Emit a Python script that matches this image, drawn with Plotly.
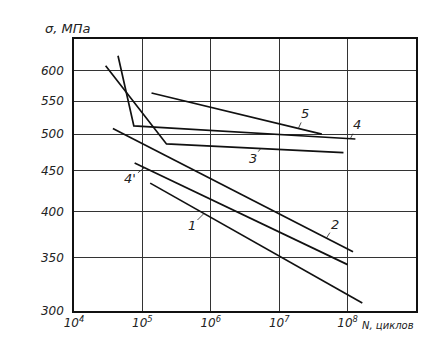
import numpy as np
import plotly.graph_objects as go

# Data (N cycles, stress MPa)
line1_N = [1.3e5, 1.64e8]
line1_S = [434, 307]
line2_N = [3.7e4, 1.2e8]
line2_S = [508, 356]
line3_N = [2.9e4, 2.25e5, 8.7e7]
line3_S = [609, 486, 474]
line4_N = [4.4e4, 7.5e4, 1.3e8]
line4_S = [627, 512, 493]
line4p_N = [7.7e4, 1.0e8]
line4p_S = [460, 343]
line5_N = [1.36e5, 4.2e7]
line5_S = [563, 500]

series = [
    ("1", line1_N, line1_S),
    ("2", line2_N, line2_S),
    ("3", line3_N, line3_S),
    ("4", line4_N, line4_S),
    ("4'", line4p_N, line4p_S),
    ("5", line5_N, line5_S),
]

x_tick_vals = [1e4, 1e5, 1e6, 1e7, 1e8]
x_tick_text = ["10<sup>4</sup>", "10<sup>5</sup>", "10<sup>6</sup>", "10<sup>7</sup>", "10<sup>8</sup>"]
y_tick_vals = [300, 350, 400, 450, 500, 550, 600]

fig = go.Figure()
for name, xs, ys in series:
    fig.add_trace(go.Scatter(x=xs, y=ys, mode="lines", name=name,
                             line=dict(color="#111", width=1.7), showlegend=False,
                             hoverinfo="skip"))

# label positions: (name, logN on line, ax, ay)
label_pos = [("1", 5.90, -12, 12), ("2", 7.69, 9, -14), ("3", 6.73, -8, 10),
             ("4", 8.04, 7, -14), ("4'", 5.03, -14, 11), ("5", 7.28, 7, -15)]
lookup = {n: (xs, ys) for n, xs, ys in series}
for name, lx, ax, ay in label_pos:
    xs, ys = lookup[name]
    ly = np.interp(lx, np.log10(xs), np.log10(ys))
    fig.add_annotation(x=lx, y=ly, xref="x", yref="y", text=name, showarrow=True,
                       arrowhead=0, arrowwidth=0.8, arrowcolor="#222", ax=ax, ay=ay,
                       font=dict(family="DejaVu Sans", size=13, color="#222", style="italic"))

fig.add_annotation(x=-0.02, y=1.037, xref="paper", yref="paper", text="σ, МПа", showarrow=False,
                   xanchor="center", yanchor="middle",
                   font=dict(family="DejaVu Sans", size=13, color="#222", style="italic"))
fig.add_annotation(x=0.835, y=-0.025, xref="paper", yref="paper", text="N, циклов", showarrow=False,
                   xanchor="left", yanchor="top",
                   font=dict(family="DejaVu Sans", size=10, color="#222", style="italic"))

axis_font = dict(family="DejaVu Sans", size=12, color="#222", style="italic")
fig.update_layout(
    width=424, height=357,
    margin=dict(l=74, r=6, t=39, b=46),
    paper_bgcolor="white", plot_bgcolor="white",
    xaxis=dict(type="log", range=[4, 9], tickvals=x_tick_vals, ticktext=x_tick_text,
               showgrid=True, gridcolor="#333", gridwidth=1, showline=True, linecolor="#111",
               linewidth=1.5, mirror=True, ticks="", tickfont=axis_font, zeroline=False),
    yaxis=dict(type="log", range=[np.log10(300), np.log10(658)], tickvals=y_tick_vals,
               showgrid=True, gridcolor="#333", gridwidth=1, showline=True, linecolor="#111",
               linewidth=1.5, mirror=True, ticks="", tickfont=axis_font, zeroline=False,
               ticklabelstandoff=6),
)

fig.write_html("out.html", config={"displayModeBar": False},
               post_script="document.body.style.margin='0';")
